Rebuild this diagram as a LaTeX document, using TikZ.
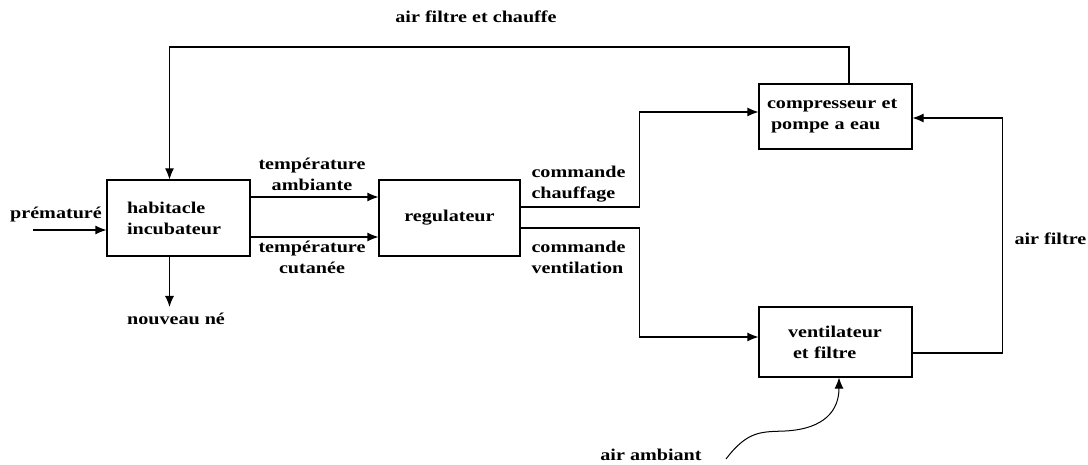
\documentclass[tikz,border=0pt]{standalone}
\usepackage{fontspec}
\setmainfont{Liberation Serif}[FakeStretch=1.22]
\usepackage{tikz}
\usetikzlibrary{arrows.meta,calc,positioning}

\begin{document}
\begin{tikzpicture}[x=1pt, y=-1pt, >={Latex[length=11pt,width=9pt]}, line width=1.1pt,
    font=\fontsize{16.5}{21}\selectfont\bfseries,
    bloc/.style={draw, rectangle, align=left, inner ysep=2pt},
    lbl/.style={inner sep=0pt, align=left}]
    \useasboundingbox (0,0) rectangle (1088,465);

    % blocs
    \node[bloc, minimum height=76pt, text width=103pt, inner xsep=20pt] (hab) at (178.5,218) {habitacle\\incubateur};
    \node[bloc, minimum height=76pt, minimum width=141pt, align=center] (reg) at (449.5,218) {regulateur};
    \node[bloc, minimum height=65pt, text width=137pt, inner xsep=8pt] (comp) at (835.5,116.5) {compresseur et\\\hspace*{4pt}pompe a eau};
    \node[bloc, minimum height=70pt, text width=95pt, inner xsep=29pt] (vent) at (835.5,342) {ventilateur\\\hspace*{5pt}et filtre};

    % points libres
    \coordinate (entree) at (33,230);
    \coordinate (sortie) at (169.5,307);
    \coordinate (haut) at (169.5,47);
    \coordinate (amb) at (726,459);

    % liaisons
    \draw[->] (entree) -- (entree -| hab.west);
    \draw[->] ([xshift=-9pt]hab.south) -- (sortie);
    \draw[->] ([yshift=21pt]hab.east) -- ([yshift=21pt]reg.west);
    \draw[->] ([yshift=-19pt]hab.east) -- ([yshift=-19pt]reg.west);
    \draw[->] ([yshift=11pt]reg.east) -- ++(119,0) |- ([yshift=4.5pt]comp.west);
    \draw[->] ([yshift=-10pt]reg.east) -- ++(119,0) |- ([yshift=5pt]vent.west);
    \draw[->] ([yshift=-11pt]vent.east) -- ++(90,0) |- ([yshift=-1.5pt]comp.east);
    \draw[->] ([xshift=13.5pt]comp.north) |- (haut) -- ([xshift=-9pt]hab.north);
    \draw[->, line width=1pt] (amb) .. controls (748,430) and (762,432) .. (785,431)
        .. controls (825,429) and (839,410) .. ([xshift=3.5pt]vent.south);

    % textes
    \node[lbl] (tchauffe) at (476,17) {air filtre et chauffe};
    \node[lbl] (pre) at (56,215) {prématuré};
    \node[lbl] (nne) at (176,319) {nouveau né};
    \node[lbl, align=center] (tamb) at (312,174) {température\\ambiante};
    \node[lbl, align=center] (tcut) at (312,257.5) {température\\cutanée};
    \node[lbl, anchor=west] (cch) at (531,184) {commande\\chauffage};
    \node[lbl, anchor=west] (cvent) at (531,257.5) {commande\\ventilation};
    \node[lbl, anchor=west] (afil) at (1014,239) {air filtre};
    \node[lbl] (aamb) at (651,455) {air ambiant};
\end{tikzpicture}
\end{document}
